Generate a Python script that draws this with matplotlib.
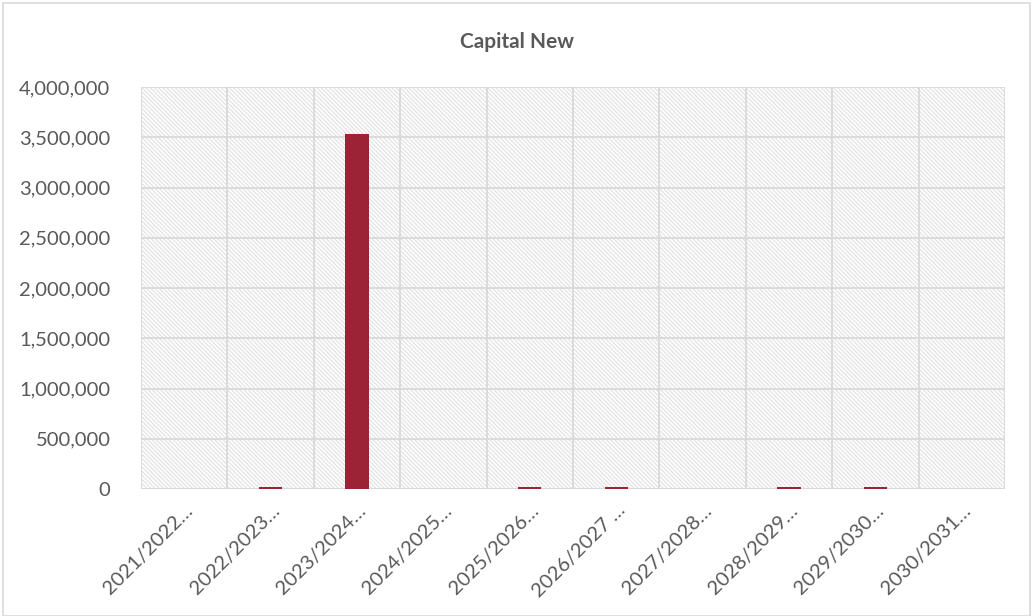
import matplotlib.pyplot as plt
from matplotlib.patches import Rectangle
from matplotlib.ticker import FuncFormatter, MultipleLocator

categories = ["2021/2022…", "2022/2023…", "2023/2024…", "2024/2025…", "2025/2026…",
              "2026/2027 …", "2027/2028…", "2028/2029…", "2029/2030…", "2030/2031…"]
values = [0, 20000, 3530000, 0, 20000, 20000, 0, 20000, 20000, 0]

plt.rcParams['font.family'] = ['Lato', 'DejaVu Sans']
plt.rcParams['hatch.linewidth'] = 0.8

fig = plt.figure(figsize=(10.33, 6.16), dpi=100)
ax = fig.add_axes([141/1033, 1 - 489/616, 864/1033, 402/616])

# outer chart border
fig.patches.append(Rectangle((3/1033, 0), 1 - 6/1033, 1 - 3/616, transform=fig.transFigure,
                             fill=False, edgecolor='#d9d9d9', linewidth=1.2))

grid = '#d9d9d9'
ax.add_patch(Rectangle((0, 0), 1, 1, transform=ax.transAxes, facecolor='white',
                       edgecolor='#e0e0e0', hatch='\\' * 8, linewidth=0, zorder=0))

x = range(len(categories))
ax.bar(x, values, width=0.27, color='#9b2335', zorder=3)

ax.set_xlim(-0.5, len(categories) - 0.5)
ax.set_ylim(0, 4000000)
ax.yaxis.set_major_locator(MultipleLocator(500000))
ax.yaxis.set_major_formatter(FuncFormatter(lambda v, p: f"{int(v):,}"))

for b in range(len(categories) + 1):
    ax.axvline(b - 0.5, color=grid, linewidth=1.3, zorder=1)
for t in range(0, 4000001, 500000):
    ax.axhline(t, color=grid, linewidth=1.3, zorder=1)
ax.axhline(0, color=grid, linewidth=2, zorder=2)

for s in ax.spines.values():
    s.set_visible(False)

ax.set_xticks(list(x))
ax.set_xticklabels(categories, rotation=45, ha='right', va='top', rotation_mode='anchor')
ax.tick_params(axis='both', length=0, colors='#595959')
ax.tick_params(axis='y', pad=22, labelsize=14.5)
ax.tick_params(axis='x', pad=9, labelsize=14.5)

fig.text(0.5, 1 - 42/616, "Capital New", ha='center', va='center', fontsize=15,
         fontweight='bold', color='#595959')

fig.savefig("out.png", dpi=100)
